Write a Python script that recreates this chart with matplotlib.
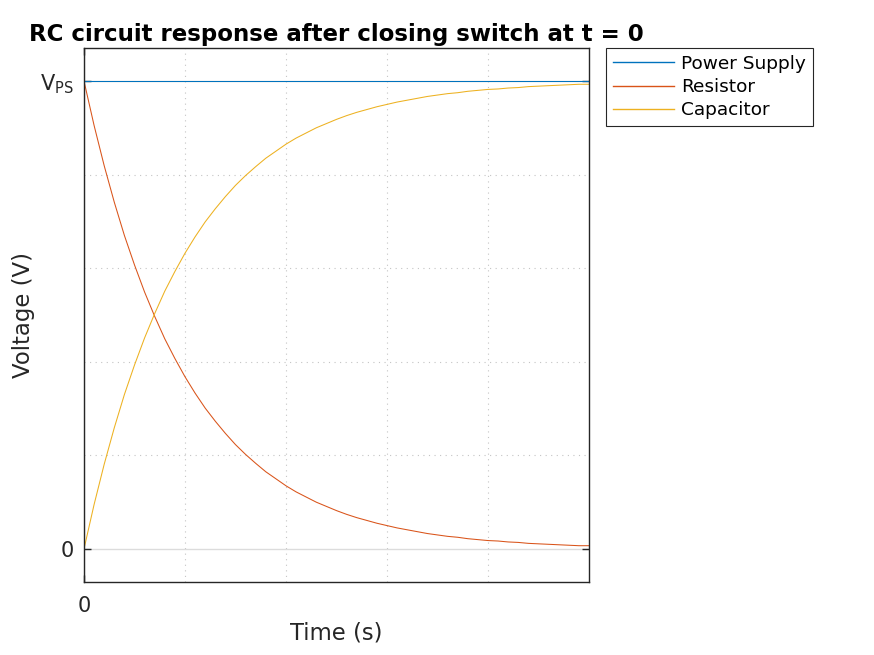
import matplotlib.pyplot as plt
from matplotlib.ticker import FixedLocator

# time in units of RC, every 0.1
t = [i / 10 for i in range(51)]

resistor_v = [1.000, 0.905, 0.819, 0.741, 0.670, 0.607, 0.549, 0.497, 0.449, 0.407,
              0.368, 0.333, 0.301, 0.273, 0.247, 0.223, 0.202, 0.183, 0.165, 0.150,
              0.135, 0.122, 0.111, 0.100, 0.091, 0.082, 0.074, 0.067, 0.061, 0.055,
              0.050, 0.045, 0.041, 0.037, 0.033, 0.030, 0.027, 0.025, 0.022, 0.020,
              0.018, 0.017, 0.015, 0.014, 0.012, 0.011, 0.010, 0.009, 0.008, 0.007,
              0.007]
capacitor_v = [0.000, 0.095, 0.181, 0.259, 0.330, 0.393, 0.451, 0.503, 0.551, 0.593,
               0.632, 0.667, 0.699, 0.727, 0.753, 0.777, 0.798, 0.817, 0.835, 0.850,
               0.865, 0.878, 0.889, 0.900, 0.909, 0.918, 0.926, 0.933, 0.939, 0.945,
               0.950, 0.955, 0.959, 0.963, 0.967, 0.970, 0.973, 0.975, 0.978, 0.980,
               0.982, 0.983, 0.985, 0.986, 0.988, 0.989, 0.990, 0.991, 0.992, 0.993,
               0.993]
supply_t = [0, 5]
supply_v = [1.0, 1.0]

labels = ['Power Supply', 'Resistor', 'Capacitor']
colors = ['#0072BD', '#D95319', '#EDB120']

dark = '#262626'

fig = plt.figure(figsize=(8.74, 6.55), dpi=100)
ax = fig.add_axes([0.0961, 0.1115, 0.5778, 0.8152])

ax.plot(supply_t, supply_v, color=colors[0], lw=0.75, label=labels[0])
ax.plot(t, resistor_v, color=colors[1], lw=0.75, label=labels[1])
ax.plot(t, capacitor_v, color=colors[2], lw=0.75, label=labels[2])

ax.set_xlim(0, 5)
ax.set_ylim(-0.0705, 1.0705)

ax.set_xticks([0])
ax.set_xticklabels(['0'])
ax.set_yticks([0, 1])
ax.set_yticklabels(['0', r'$\mathregular{V_{PS}}$'])
ax.xaxis.set_minor_locator(FixedLocator([1, 2, 3, 4]))
ax.yaxis.set_minor_locator(FixedLocator([0.2, 0.4, 0.6, 0.8]))

ax.grid(True, which='major', color='#dcdcdc', lw=1.0, ls='-')
ax.grid(True, which='minor', color='#c4c4c4', lw=0.8, ls=(0, (1, 4)))
ax.set_axisbelow(True)

ax.tick_params(which='major', direction='in', length=5, width=1, color=dark,
               labelcolor=dark, labelsize=15, top=True, right=True)
ax.tick_params(axis='x', which='major', pad=10)
ax.tick_params(axis='y', which='major', pad=7)
ax.tick_params(which='minor', length=0)
for s in ax.spines.values():
    s.set_color(dark)
    s.set_linewidth(1.0)

ax.set_title('RC circuit response after closing switch at t = 0',
             fontsize=16.5, fontweight='bold', pad=5)
ax.set_xlabel('Time (s)', fontsize=16.4, color=dark, labelpad=4)
ax.set_ylabel('Voltage (V)', fontsize=16.4, color=dark, labelpad=4)

leg = ax.legend(loc='upper left', bbox_to_anchor=(1.034, 1.0), fontsize=13.3,
                frameon=True, fancybox=False, edgecolor=dark, framealpha=1,
                borderpad=0.36, labelspacing=0.29, handlelength=3.3,
                handletextpad=0.4, borderaxespad=0)
leg.get_frame().set_linewidth(0.8)
for line in leg.get_lines():
    line.set_linewidth(1.0)

fig.savefig('out.png', dpi=100)
